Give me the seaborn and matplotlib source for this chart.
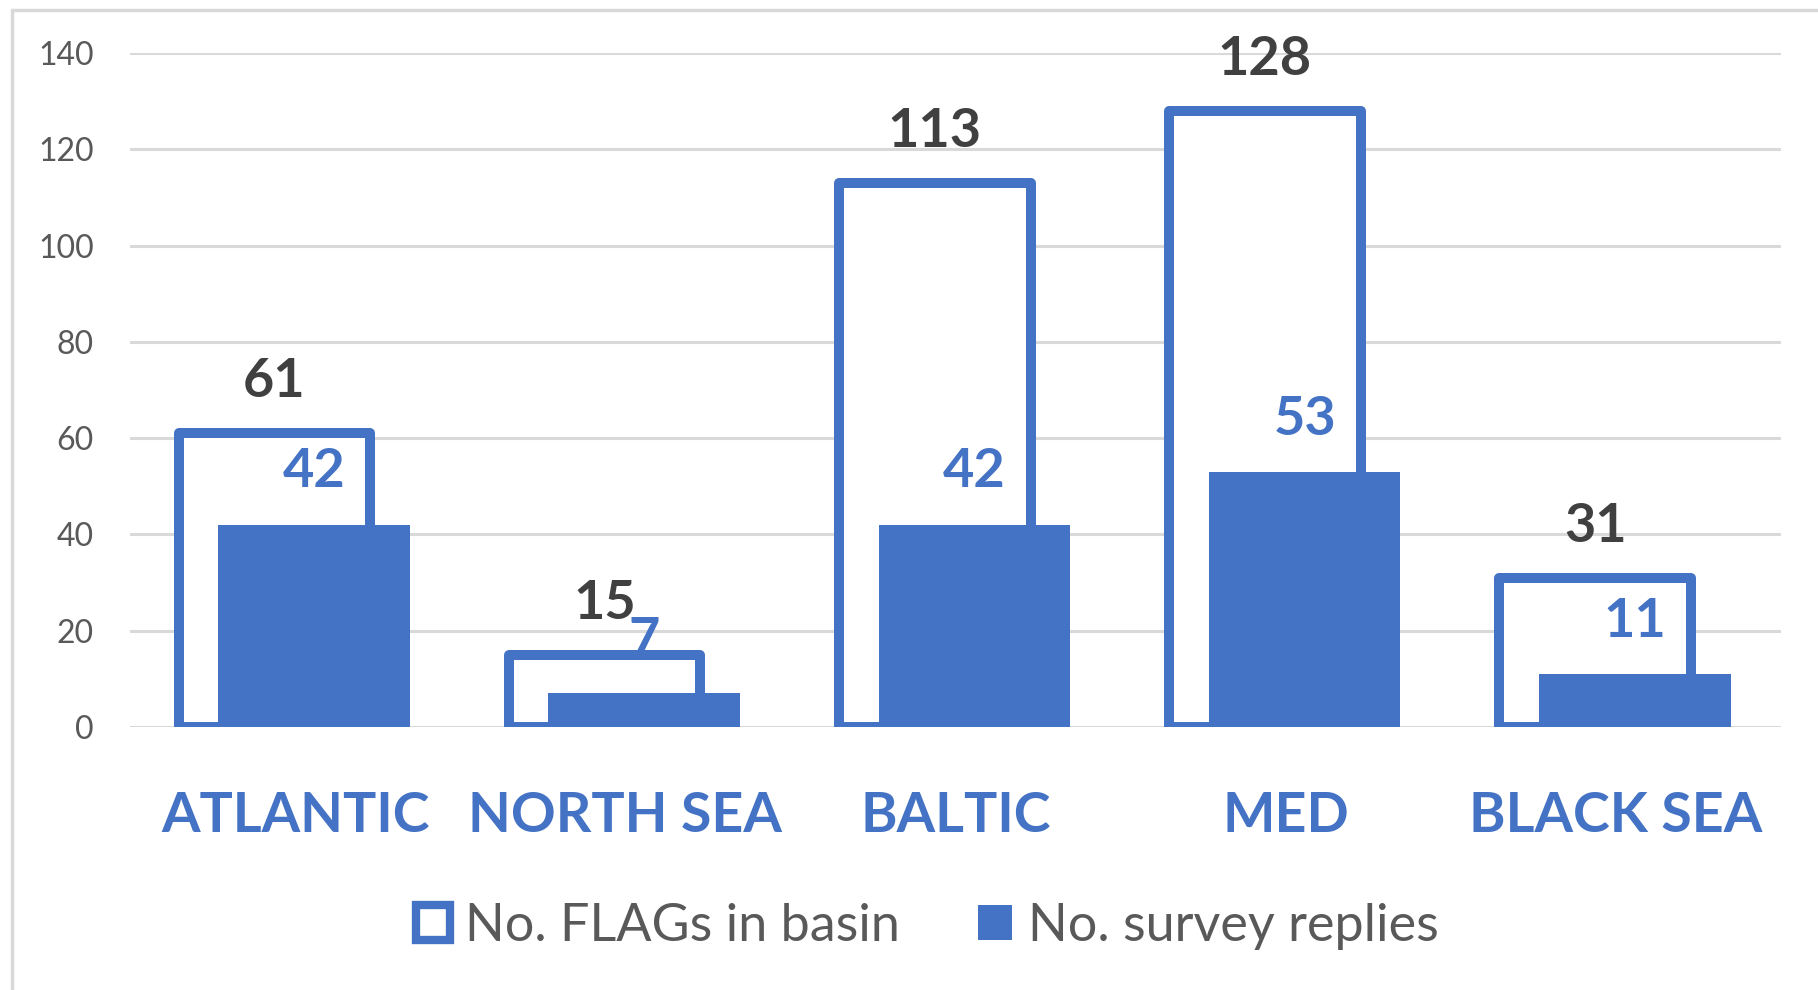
import matplotlib
matplotlib.use("Agg")
import matplotlib.pyplot as plt
import seaborn as sns
import pandas as pd
from matplotlib.patches import Patch
from matplotlib.lines import Line2D

# ---- data ----
basins = ["ATLANTIC", "NORTH SEA", "BALTIC", "MED", "BLACK SEA"]
flags_in_basin = [61, 15, 113, 128, 31]
survey_replies = [42, 7, 42, 53, 11]
series_names = ["No. FLAGs in basin", "No. survey replies"]
y_ticks = [0, 20, 40, 60, 80, 100, 120, 140]

BLUE = "#4472C4"
GRAY_TXT = "#595959"
DARK_TXT = "#404040"
GRID = "#D9D9D9"

sns.set_theme(style="white")
plt.rcParams["font.family"] = ["Lato", "DejaVu Sans"]

df = pd.DataFrame({"basin": basins, "flags": flags_in_basin, "replies": survey_replies})

fig = plt.figure(figsize=(18.18, 9.90), dpi=100)
ax = fig.add_axes([0.0715, 0.2657, 0.9082, 0.6808])

BAR_W = 0.58
OFF_OUT = -0.063
OFF_FILL = 0.057
LW = 7.2

# outline bars (flags)
sns.barplot(data=df, x="basin", y="flags", order=basins, ax=ax, width=BAR_W,
            color="white", edgecolor=BLUE, linewidth=LW, saturation=1, zorder=2)
n_out = len(ax.patches)
for p in ax.patches:
    p.set_x(p.get_x() + OFF_OUT)
    p.set_facecolor("white")
    p.set_joinstyle("round")

# filled bars (replies)
sns.barplot(data=df, x="basin", y="replies", order=basins, ax=ax, width=BAR_W,
            color=BLUE, linewidth=0, saturation=1, zorder=3)
fill_patches = ax.patches[n_out:]
for p in fill_patches:
    p.set_x(p.get_x() + OFF_FILL)
    p.set_facecolor(BLUE)

out_patches = ax.patches[:n_out]

# data labels
for p, v in zip(out_patches, flags_in_basin):
    ax.annotate(str(v), (p.get_x() + p.get_width() / 2, v), xytext=(0, 37),
                textcoords="offset points", ha="center", va="center",
                fontsize=39, fontweight="bold", color=DARK_TXT, zorder=5,
                annotation_clip=False)
for p, v in zip(fill_patches, survey_replies):
    ax.annotate(str(v), (p.get_x() + p.get_width() / 2, v), xytext=(0, 38),
                textcoords="offset points", ha="center", va="center",
                fontsize=39, fontweight="bold", color=BLUE, zorder=5,
                annotation_clip=False)

ax.set_ylim(0, 140)
ax.set_xlim(-0.5, len(basins) - 0.5)
ax.set_yticks(y_ticks)
ax.set_yticklabels([str(t) for t in y_ticks])
ax.yaxis.grid(True, color=GRID, linewidth=2.2, zorder=0)
ax.set_axisbelow(True)
for s in ax.spines.values():
    s.set_visible(False)
ax.tick_params(axis="y", length=0, pad=26, labelsize=23, labelcolor=GRAY_TXT)
ax.tick_params(axis="x", length=0, pad=46, labelsize=40, labelcolor=BLUE)
for lab in ax.get_xticklabels():
    lab.set_fontweight("bold")
ax.set_xlabel("")
ax.set_ylabel("")

# legend
handles = [Patch(facecolor="white", edgecolor=BLUE, linewidth=6, label=series_names[0]),
           Patch(facecolor=BLUE, edgecolor=BLUE, linewidth=0, label=series_names[1])]
leg = fig.legend(handles=handles, loc="center", bbox_to_anchor=(0.51, 0.064), ncol=2,
                 frameon=False, fontsize=37.5, handlelength=0.65, handleheight=0.65,
                 handletextpad=0.3, columnspacing=1.5)
for t in leg.get_texts():
    t.set_color(GRAY_TXT)

# chart area border (top and left visible)
fig.add_artist(Line2D([0.0066, 1.0], [0.9899, 0.9899], transform=fig.transFigure,
                      color=GRID, linewidth=2.5))
fig.add_artist(Line2D([0.0066, 0.0066], [0.0, 0.9899], transform=fig.transFigure,
                      color=GRID, linewidth=2.5))

fig.savefig("out.png", dpi=100, facecolor="white")
